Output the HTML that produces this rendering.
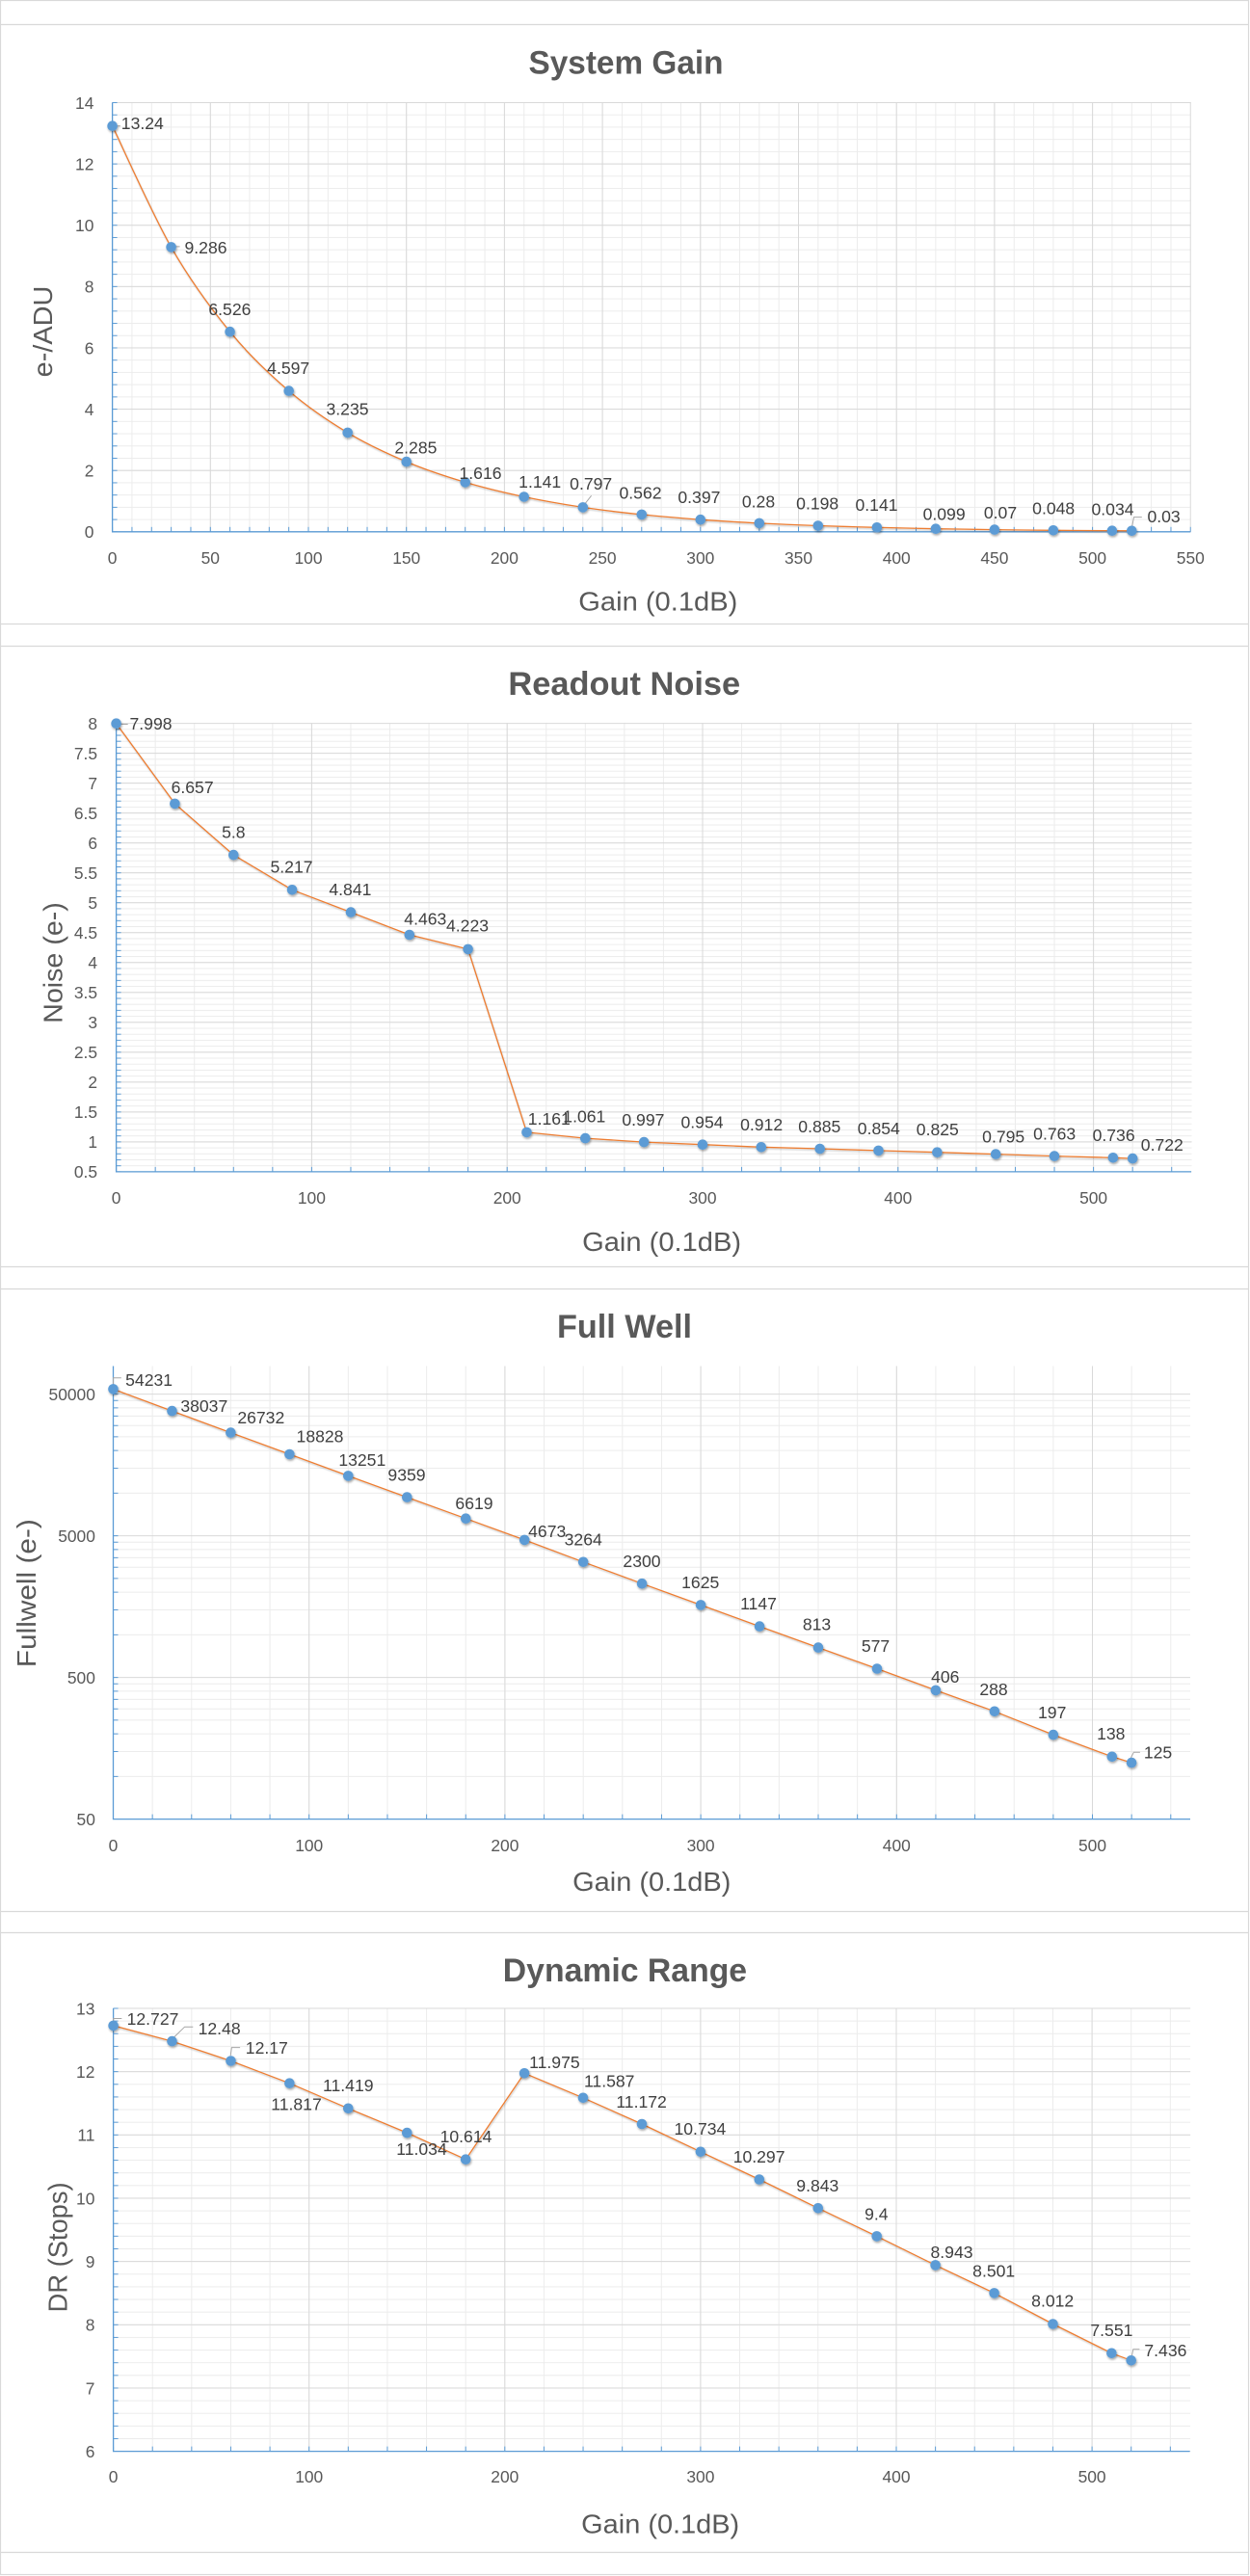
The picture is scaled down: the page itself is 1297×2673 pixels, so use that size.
<!DOCTYPE html>
<html>
<head>
<meta charset="utf-8">
<style>
html,body{margin:0;padding:0;background:#fff;}
svg{display:block;}
text{font-family:"Liberation Sans",Arial,sans-serif;}
.tk{font-size:17.4px;fill:#595959;}
.dl{font-size:17.6px;fill:#404040;text-anchor:middle;}
.tt{font-size:34px;font-weight:bold;fill:#595959;}
.at{font-size:28px;fill:#595959;}
.ax{stroke:#5B9BD5;stroke-width:1.3;fill:none;}
.ser{fill:none;stroke:#ED7D31;stroke-width:1.3;stroke-linejoin:round;}
.mk circle{fill:#5B9BD5;}
.ld{stroke:#a6a6a6;stroke-width:1;fill:none;}
</style>
</head>
<body>
<svg width="1297" height="2673" viewBox="0 0 1297 2673" xmlns="http://www.w3.org/2000/svg">
<defs>
<filter id="sh" x="-50%" y="-50%" width="200%" height="200%"><feDropShadow dx="0.8" dy="1.6" stdDeviation="1" flood-color="#000" flood-opacity="0.35"/></filter>
<filter id="shl" x="-5%" y="-5%" width="110%" height="110%"><feDropShadow dx="0.6" dy="1.4" stdDeviation="0.9" flood-color="#000" flood-opacity="0.22"/></filter>
<pattern id="a1" patternUnits="userSpaceOnUse" x="116.1" y="106" width="20.34" height="12.724"><rect width="1" height="12.724" fill="#ececec"/><rect width="20.34" height="1" fill="#ececec"/></pattern>
<pattern id="b1" patternUnits="userSpaceOnUse" x="116.1" y="106" width="101.7" height="63.614"><rect width="1" height="63.614" fill="#d9d9d9"/><rect width="101.7" height="1" fill="#d9d9d9"/></pattern>
<pattern id="tx1" patternUnits="userSpaceOnUse" x="116.1" y="546.8" width="20.34" height="5"><rect width="1" height="5" fill="#5B9BD5"/></pattern>
<pattern id="ty1" patternUnits="userSpaceOnUse" x="116.6" y="106" width="5" height="12.724"><rect width="5" height="1" fill="#5B9BD5"/></pattern>
<pattern id="a2" patternUnits="userSpaceOnUse" x="120.1" y="750.1" width="40.56" height="6.204"><rect width="1" height="6.204" fill="#ececec"/><rect width="40.56" height="1" fill="#ececec"/></pattern>
<pattern id="b2" patternUnits="userSpaceOnUse" x="120.1" y="750.1" width="202.8" height="31.02"><rect width="1" height="31.02" fill="#d9d9d9"/><rect width="202.8" height="1" fill="#d9d9d9"/></pattern>
<pattern id="tx2" patternUnits="userSpaceOnUse" x="120.1" y="1210.9" width="40.56" height="5"><rect width="1" height="5" fill="#5B9BD5"/></pattern>
<pattern id="ty2" patternUnits="userSpaceOnUse" x="120.6" y="750.1" width="5" height="6.204"><rect width="5" height="1" fill="#5B9BD5"/></pattern>
<pattern id="a3" patternUnits="userSpaceOnUse" x="117" y="1417.5" width="40.64" height="10"><rect width="1" height="10" fill="#ececec"/></pattern>
<pattern id="b3" patternUnits="userSpaceOnUse" x="117" y="1417.5" width="203.2" height="10"><rect width="1" height="10" fill="#d9d9d9"/></pattern>
<pattern id="tx3" patternUnits="userSpaceOnUse" x="117" y="1882.6" width="40.64" height="5"><rect width="1" height="5" fill="#5B9BD5"/></pattern>
<pattern id="a4" patternUnits="userSpaceOnUse" x="117.1" y="2083.5" width="40.62" height="13.132"><rect width="1" height="13.132" fill="#ececec"/><rect width="40.62" height="1" fill="#ececec"/></pattern>
<pattern id="b4" patternUnits="userSpaceOnUse" x="117.1" y="2083.5" width="203.1" height="65.66"><rect width="1" height="65.66" fill="#d9d9d9"/><rect width="203.1" height="1" fill="#d9d9d9"/></pattern>
<pattern id="tx4" patternUnits="userSpaceOnUse" x="117.1" y="2538.6" width="40.62" height="5"><rect width="1" height="5" fill="#5B9BD5"/></pattern>
<pattern id="ty4" patternUnits="userSpaceOnUse" x="117.6" y="2083.5" width="5" height="13.132"><rect width="5" height="1" fill="#5B9BD5"/></pattern>
</defs>

<rect x="0" y="0" width="1297" height="2673" fill="#fff"/>
<rect x="0.5" y="0.5" width="1295" height="2671" fill="none" stroke="#d9d9d9" stroke-width="1.2"/>
<path d="M0 25.5H1296M0 647.5H1296M0 670.5H1296M0 1314.5H1296M0 1337.5H1296M0 1983.5H1296M0 2005.5H1296M0 2648.5H1296" stroke="#d9d9d9" stroke-width="1.2" fill="none"/>

<!-- ================= CHART 1 ================= -->
<text class="tt" x="548.5" y="76.6" textLength="202" lengthAdjust="spacingAndGlyphs">System Gain</text>
<rect x="116.1" y="106" width="1119.7" height="446.3" fill="url(#a1)"/>
<rect x="116.1" y="106" width="1119.7" height="446.3" fill="url(#b1)"/>
<rect x="116.1" y="546.8" width="1119.7" height="5" fill="url(#tx1)"/>
<rect x="116.6" y="106" width="5" height="446" fill="url(#ty1)"/>
<path class="ax" d="M116.6 106.5V551.8H1235.3"/>
<g class="tk" text-anchor="end">
<text x="97.4" y="112.8">14</text>
<text x="97.4" y="176.4">12</text>
<text x="97.4" y="240">10</text>
<text x="97.4" y="303.6">8</text>
<text x="97.4" y="367.3">6</text>
<text x="97.4" y="430.9">4</text>
<text x="97.4" y="494.5">2</text>
<text x="97.4" y="558.1">0</text>
</g>
<g class="tk" text-anchor="middle">
<text x="116.6" y="585">0</text>
<text x="218.3" y="585">50</text>
<text x="320" y="585">100</text>
<text x="421.7" y="585">150</text>
<text x="523.4" y="585">200</text>
<text x="625.1" y="585">250</text>
<text x="726.8" y="585">300</text>
<text x="828.5" y="585">350</text>
<text x="930.2" y="585">400</text>
<text x="1031.9" y="585">450</text>
<text x="1133.6" y="585">500</text>
<text x="1235.3" y="585">550</text>
</g>
<text class="at" x="600.3" y="633.4" textLength="165" lengthAdjust="spacingAndGlyphs">Gain (0.1dB)</text>
<text class="at" transform="translate(53.9 344) rotate(-90)" text-anchor="middle" x="0" y="0" textLength="94.7" lengthAdjust="spacingAndGlyphs">e-/ADU</text>
<path class="ser" filter="url(#shl)" d="M116.6 130.7C126.8 151.7 157.3 220.8 177.6 256.4C197.9 292 218.3 319.3 238.6 344.2C258.9 369.1 279.4 388.2 299.7 405.6C320.1 423.1 340.4 436.7 360.7 448.9C381 461.2 401.4 470.5 421.7 479.1C442 487.7 462.4 494.3 482.7 500.4C503 506.5 523.4 511.2 543.7 515.5C564.1 519.8 584.5 523.3 604.8 526.4C625.2 529.5 645.5 531.8 665.8 533.9C686.1 536 706.5 537.6 726.8 539.2C747.1 540.6 767.5 541.9 787.8 542.9C808.1 543.9 828.5 544.7 848.8 545.5C869.1 546.2 889.6 546.8 909.9 547.3C930.2 547.8 950.6 548.3 970.9 548.7C991.2 549 1011.6 549.3 1031.9 549.6C1052.2 549.9 1072.6 550.1 1092.9 550.3C1113.2 550.5 1133.6 550.6 1153.9 550.7L1174.3 550.8"/>
<path class="ld" d="M121.5 130.7H125M180.8 255.9H186.6M603.6 527L613.6 514.3M1174.5 547L1176.5 536.6H1184.8"/>
<g class="mk" filter="url(#sh)">
<circle cx="116.6" cy="130.7" r="5.3"/><circle cx="177.6" cy="256.4" r="5.3"/><circle cx="238.6" cy="344.2" r="5.3"/><circle cx="299.7" cy="405.6" r="5.3"/><circle cx="360.7" cy="448.9" r="5.3"/><circle cx="421.7" cy="479.1" r="5.3"/><circle cx="482.7" cy="500.4" r="5.3"/><circle cx="543.7" cy="515.5" r="5.3"/><circle cx="604.8" cy="526.4" r="5.3"/><circle cx="665.8" cy="533.9" r="5.3"/><circle cx="726.8" cy="539.2" r="5.3"/><circle cx="787.8" cy="542.9" r="5.3"/><circle cx="848.8" cy="545.5" r="5.3"/><circle cx="909.9" cy="547.3" r="5.3"/><circle cx="970.9" cy="548.7" r="5.3"/><circle cx="1031.9" cy="549.6" r="5.3"/><circle cx="1092.9" cy="550.3" r="5.3"/><circle cx="1153.9" cy="550.7" r="5.3"/><circle cx="1174.3" cy="550.8" r="5.3"/>
</g>
<g class="dl">
<text x="147.8" y="134">13.24</text>
<text x="213.5" y="263.2">9.286</text>
<text x="238.4" y="327.2">6.526</text>
<text x="299.2" y="387.8">4.597</text>
<text x="360.5" y="430.7">3.235</text>
<text x="431.4" y="470.7">2.285</text>
<text x="498.5" y="496.8">1.616</text>
<text x="560.2" y="506.1">1.141</text>
<text x="613.2" y="507.8">0.797</text>
<text x="664.5" y="517.5">0.562</text>
<text x="725.4" y="522.1">0.397</text>
<text x="787" y="526.7">0.28</text>
<text x="848.2" y="528.4">0.198</text>
<text x="909.5" y="530.1">0.141</text>
<text x="979.6" y="539.3">0.099</text>
<text x="1038" y="538.1">0.07</text>
<text x="1093.2" y="533.5">0.048</text>
<text x="1154.5" y="534.3">0.034</text>
<text x="1207.6" y="541.9">0.03</text>
</g>

<!-- ================= CHART 2 ================= -->
<text class="tt" x="527.4" y="721.1" textLength="240.8" lengthAdjust="spacingAndGlyphs">Readout Noise</text>
<rect x="120.1" y="750.1" width="1116.4" height="466.3" fill="url(#a2)"/>
<rect x="120.1" y="750.1" width="1116.4" height="466.3" fill="url(#b2)"/>
<rect x="120.1" y="1210.9" width="1116.4" height="5" fill="url(#tx2)"/>
<rect x="120.6" y="750.1" width="5" height="466" fill="url(#ty2)"/>
<path class="ax" d="M120.6 750.6V1215.9H1236"/>
<g class="tk" text-anchor="end">
<text x="101" y="756.9">8</text>
<text x="101" y="787.9">7.5</text>
<text x="101" y="819">7</text>
<text x="101" y="850">6.5</text>
<text x="101" y="881">6</text>
<text x="101" y="912">5.5</text>
<text x="101" y="943">5</text>
<text x="101" y="974">4.5</text>
<text x="101" y="1005.1">4</text>
<text x="101" y="1036.1">3.5</text>
<text x="101" y="1067.1">3</text>
<text x="101" y="1098.1">2.5</text>
<text x="101" y="1129.1">2</text>
<text x="101" y="1160.2">1.5</text>
<text x="101" y="1191.2">1</text>
<text x="101" y="1222.2">0.5</text>
</g>
<g class="tk" text-anchor="middle">
<text x="120.6" y="1249">0</text>
<text x="323.4" y="1249">100</text>
<text x="526.2" y="1249">200</text>
<text x="729" y="1249">300</text>
<text x="931.8" y="1249">400</text>
<text x="1134.6" y="1249">500</text>
</g>
<text class="at" x="604.1" y="1298" textLength="165" lengthAdjust="spacingAndGlyphs">Gain (0.1dB)</text>
<text class="at" transform="translate(64.3 999) rotate(-90)" text-anchor="middle" x="0" y="0" textLength="125.7" lengthAdjust="spacingAndGlyphs">Noise (e-)</text>
<polyline class="ser" filter="url(#shl)" points="120.6,750.7 181.4,833.9 242.3,887.1 303.1,923.3 364,946.6 424.8,970 485.6,984.9 546.5,1174.9 607.3,1181.1 668.2,1185.1 729,1187.7 789.8,1190.3 850.7,1192 911.5,1193.9 972.4,1195.7 1033.2,1197.6 1094,1199.6 1154.9,1201.3 1175.2,1202.1"/>
<path class="ld" d="M125 751.5H132.7"/>
<g class="mk" filter="url(#sh)">
<circle cx="120.6" cy="750.7" r="5.3"/><circle cx="181.4" cy="833.9" r="5.3"/><circle cx="242.3" cy="887.1" r="5.3"/><circle cx="303.1" cy="923.3" r="5.3"/><circle cx="364" cy="946.6" r="5.3"/><circle cx="424.8" cy="970" r="5.3"/><circle cx="485.6" cy="984.9" r="5.3"/><circle cx="546.5" cy="1174.9" r="5.3"/><circle cx="607.3" cy="1181.1" r="5.3"/><circle cx="668.2" cy="1185.1" r="5.3"/><circle cx="729" cy="1187.7" r="5.3"/><circle cx="789.8" cy="1190.3" r="5.3"/><circle cx="850.7" cy="1192" r="5.3"/><circle cx="911.5" cy="1193.9" r="5.3"/><circle cx="972.4" cy="1195.7" r="5.3"/><circle cx="1033.2" cy="1197.6" r="5.3"/><circle cx="1094" cy="1199.6" r="5.3"/><circle cx="1154.9" cy="1201.3" r="5.3"/><circle cx="1175.2" cy="1202.1" r="5.3"/>
</g>
<g class="dl">
<text x="156.5" y="757.1">7.998</text>
<text x="199.6" y="823">6.657</text>
<text x="242.3" y="869.4">5.8</text>
<text x="302.5" y="905.4">5.217</text>
<text x="363.4" y="929.2">4.841</text>
<text x="441.3" y="959.6">4.463</text>
<text x="485" y="966.5">4.223</text>
<text x="569.8" y="1166.9">1.161</text>
<text x="606.3" y="1164.3">1.061</text>
<text x="667.4" y="1168.2">0.997</text>
<text x="728.5" y="1170.4">0.954</text>
<text x="790.1" y="1173">0.912</text>
<text x="850.3" y="1175.1">0.885</text>
<text x="911.8" y="1176.9">0.854</text>
<text x="972.8" y="1178.2">0.825</text>
<text x="1041.2" y="1185.5">0.795</text>
<text x="1094.2" y="1182.5">0.763</text>
<text x="1155.6" y="1184.2">0.736</text>
<text x="1205.8" y="1193.8">0.722</text>
</g>

<!-- ================= CHART 3 ================= -->
<text class="tt" x="578" y="1388" textLength="140" lengthAdjust="spacingAndGlyphs">Full Well</text>
<rect x="117" y="1417.5" width="1118.5" height="470.1" fill="url(#a3)"/>
<path d="M117.5 1843.4H1235M117.5 1817.5H1235M117.5 1799.1H1235M117.5 1784.9H1235M117.5 1773.2H1235M117.5 1763.4H1235M117.5 1754.9H1235M117.5 1747.3H1235M117.5 1696.4H1235M117.5 1670.5H1235M117.5 1652.1H1235M117.5 1637.9H1235M117.5 1626.2H1235M117.5 1616.4H1235M117.5 1607.9H1235M117.5 1600.3H1235M117.5 1549.4H1235M117.5 1523.5H1235M117.5 1505.1H1235M117.5 1490.9H1235M117.5 1479.2H1235M117.5 1469.4H1235M117.5 1460.9H1235M117.5 1453.3H1235" stroke="#ececec" stroke-width="1" fill="none"/>
<rect x="117" y="1417.5" width="1118.5" height="470.1" fill="url(#b3)"/>
<path d="M117.5 1740.6H1235M117.5 1593.6H1235M117.5 1446.6H1235" stroke="#d9d9d9" stroke-width="1" fill="none"/>
<rect x="117" y="1882.6" width="1118.5" height="5" fill="url(#tx3)"/>
<path d="M117.5 1843.4h5M117.5 1817.5h5M117.5 1799.1h5M117.5 1784.9h5M117.5 1773.2h5M117.5 1763.4h5M117.5 1754.9h5M117.5 1747.3h5M117.5 1740.6h5M117.5 1696.4h5M117.5 1670.5h5M117.5 1652.1h5M117.5 1637.9h5M117.5 1626.2h5M117.5 1616.4h5M117.5 1607.9h5M117.5 1600.3h5M117.5 1593.6h5M117.5 1549.4h5M117.5 1523.5h5M117.5 1505.1h5M117.5 1490.9h5M117.5 1479.2h5M117.5 1469.4h5M117.5 1460.9h5M117.5 1453.3h5M117.5 1446.6h5" stroke="#5B9BD5" stroke-width="1" fill="none"/>
<path class="ax" d="M117.5 1417.5V1887.6H1235"/>
<g class="tk" text-anchor="end">
<text x="98.9" y="1452.9">50000</text>
<text x="98.9" y="1599.9">5000</text>
<text x="98.9" y="1746.9">500</text>
<text x="98.9" y="1893.9">50</text>
</g>
<g class="tk" text-anchor="middle">
<text x="117.5" y="1921">0</text>
<text x="320.7" y="1921">100</text>
<text x="523.9" y="1921">200</text>
<text x="727.1" y="1921">300</text>
<text x="930.3" y="1921">400</text>
<text x="1133.5" y="1921">500</text>
</g>
<text class="at" x="594.1" y="1962.2" textLength="164.3" lengthAdjust="spacingAndGlyphs">Gain (0.1dB)</text>
<text class="at" transform="translate(36.9 1653.2) rotate(-90)" text-anchor="middle" x="0" y="0" textLength="154" lengthAdjust="spacingAndGlyphs">Fullwell (e-)</text>
<polyline class="ser" filter="url(#shl)" points="117.5,1441.4 178.5,1464.1 239.4,1486.6 300.4,1509 361.3,1531.4 422.3,1553.6 483.3,1575.7 544.2,1597.9 605.2,1620.8 666.1,1643.2 727.1,1665.4 788.1,1687.6 849,1709.6 910,1731.5 970.9,1753.9 1031.9,1775.8 1092.9,1800.1 1153.8,1822.8 1174.1,1829.1"/>
<path class="ld" d="M117.5 1436V1429.7H125.8M1173.4 1824L1176.4 1818.2H1182.9"/>
<g class="mk" filter="url(#sh)">
<circle cx="117.5" cy="1441.4" r="5.3"/><circle cx="178.5" cy="1464.1" r="5.3"/><circle cx="239.4" cy="1486.6" r="5.3"/><circle cx="300.4" cy="1509" r="5.3"/><circle cx="361.3" cy="1531.4" r="5.3"/><circle cx="422.3" cy="1553.6" r="5.3"/><circle cx="483.3" cy="1575.7" r="5.3"/><circle cx="544.2" cy="1597.9" r="5.3"/><circle cx="605.2" cy="1620.8" r="5.3"/><circle cx="666.1" cy="1643.2" r="5.3"/><circle cx="727.1" cy="1665.4" r="5.3"/><circle cx="788.1" cy="1687.6" r="5.3"/><circle cx="849" cy="1709.6" r="5.3"/><circle cx="910" cy="1731.5" r="5.3"/><circle cx="970.9" cy="1753.9" r="5.3"/><circle cx="1031.9" cy="1775.8" r="5.3"/><circle cx="1092.9" cy="1800.1" r="5.3"/><circle cx="1153.8" cy="1822.8" r="5.3"/><circle cx="1174.1" cy="1829.1" r="5.3"/>
</g>
<g class="dl">
<text x="154.6" y="1437.9">54231</text>
<text x="211.8" y="1464.8">38037</text>
<text x="270.8" y="1476.9">26732</text>
<text x="332" y="1496.5">18828</text>
<text x="375.8" y="1521.2">13251</text>
<text x="422" y="1536.3">9359</text>
<text x="492" y="1565.8">6619</text>
<text x="567.7" y="1594.9">4673</text>
<text x="605.2" y="1603.5">3264</text>
<text x="666" y="1626.1">2300</text>
<text x="726.7" y="1648.2">1625</text>
<text x="787" y="1669.9">1147</text>
<text x="847.5" y="1691.6">813</text>
<text x="908.5" y="1714.1">577</text>
<text x="980.8" y="1745.8">406</text>
<text x="1031" y="1758.8">288</text>
<text x="1091.7" y="1783.1">197</text>
<text x="1152.8" y="1805.2">138</text>
<text x="1201.5" y="1824.7">125</text>
</g>

<!-- ================= CHART 4 ================= -->
<text class="tt" x="521.8" y="2056.2" textLength="253.3" lengthAdjust="spacingAndGlyphs">Dynamic Range</text>
<rect x="117.1" y="2083.5" width="1118" height="460.6" fill="url(#a4)"/>
<rect x="117.1" y="2083.5" width="1118" height="460.6" fill="url(#b4)"/>
<rect x="117.1" y="2538.6" width="1118" height="5" fill="url(#tx4)"/>
<rect x="117.6" y="2083.5" width="5" height="460" fill="url(#ty4)"/>
<path class="ax" d="M117.6 2084V2543.6H1234.6"/>
<g class="tk" text-anchor="end">
<text x="98.4" y="2090.3">13</text>
<text x="98.4" y="2156">12</text>
<text x="98.4" y="2221.6">11</text>
<text x="98.4" y="2287.3">10</text>
<text x="98.4" y="2352.9">9</text>
<text x="98.4" y="2418.6">8</text>
<text x="98.4" y="2484.3">7</text>
<text x="98.4" y="2549.9">6</text>
</g>
<g class="tk" text-anchor="middle">
<text x="117.6" y="2576">0</text>
<text x="320.7" y="2576">100</text>
<text x="523.8" y="2576">200</text>
<text x="726.9" y="2576">300</text>
<text x="930" y="2576">400</text>
<text x="1133.1" y="2576">500</text>
</g>
<text class="at" x="603.2" y="2628.5" textLength="164" lengthAdjust="spacingAndGlyphs">Gain (0.1dB)</text>
<text class="at" transform="translate(69.7 2331.9) rotate(-90)" text-anchor="middle" x="0" y="0" textLength="135" lengthAdjust="spacingAndGlyphs">DR (Stops)</text>
<polyline class="ser" filter="url(#shl)" points="117.6,2101.9 178.5,2118.1 239.5,2138.5 300.4,2161.7 361.3,2187.8 422.3,2213.1 483.2,2240.7 544.1,2151.3 605,2176.8 666,2204 726.9,2232.8 787.8,2261.5 848.8,2291.3 909.7,2320.4 970.6,2350.4 1031.6,2379.4 1092.5,2411.5 1153.4,2441.8 1173.7,2449.3"/>
<path class="ld" d="M117.6 2097V2094.5H126.3M180 2114.5L191.6 2103.2H200.3M239.2 2133L240.4 2124.6H249.1M1174.5 2444L1175.8 2437.7H1182.4"/>
<g class="mk" filter="url(#sh)">
<circle cx="117.6" cy="2101.9" r="5.3"/><circle cx="178.5" cy="2118.1" r="5.3"/><circle cx="239.5" cy="2138.5" r="5.3"/><circle cx="300.4" cy="2161.7" r="5.3"/><circle cx="361.3" cy="2187.8" r="5.3"/><circle cx="422.3" cy="2213.1" r="5.3"/><circle cx="483.2" cy="2240.7" r="5.3"/><circle cx="544.1" cy="2151.3" r="5.3"/><circle cx="605" cy="2176.8" r="5.3"/><circle cx="666" cy="2204" r="5.3"/><circle cx="726.9" cy="2232.8" r="5.3"/><circle cx="787.8" cy="2261.5" r="5.3"/><circle cx="848.8" cy="2291.3" r="5.3"/><circle cx="909.7" cy="2320.4" r="5.3"/><circle cx="970.6" cy="2350.4" r="5.3"/><circle cx="1031.6" cy="2379.4" r="5.3"/><circle cx="1092.5" cy="2411.5" r="5.3"/><circle cx="1153.4" cy="2441.8" r="5.3"/><circle cx="1173.7" cy="2449.3" r="5.3"/>
</g>
<g class="dl">
<text x="158.5" y="2101">12.727</text>
<text x="227.6" y="2111">12.48</text>
<text x="276.8" y="2131.1">12.17</text>
<text x="307.5" y="2189.5">11.817</text>
<text x="361.3" y="2169.8">11.419</text>
<text x="437.5" y="2236">11.034</text>
<text x="483.5" y="2223">10.614</text>
<text x="575.4" y="2145.9">11.975</text>
<text x="632.2" y="2165.5">11.587</text>
<text x="665.6" y="2186.8">11.172</text>
<text x="726.4" y="2215.1">10.734</text>
<text x="787.6" y="2243.9">10.297</text>
<text x="848.3" y="2273.9">9.843</text>
<text x="909.3" y="2303.5">9.4</text>
<text x="987.5" y="2342.8">8.943</text>
<text x="1031.2" y="2362.3">8.501</text>
<text x="1092.2" y="2393.7">8.012</text>
<text x="1153.4" y="2424.2">7.551</text>
<text x="1209.4" y="2445.1">7.436</text>
</g>
</svg>
</body>
</html>
